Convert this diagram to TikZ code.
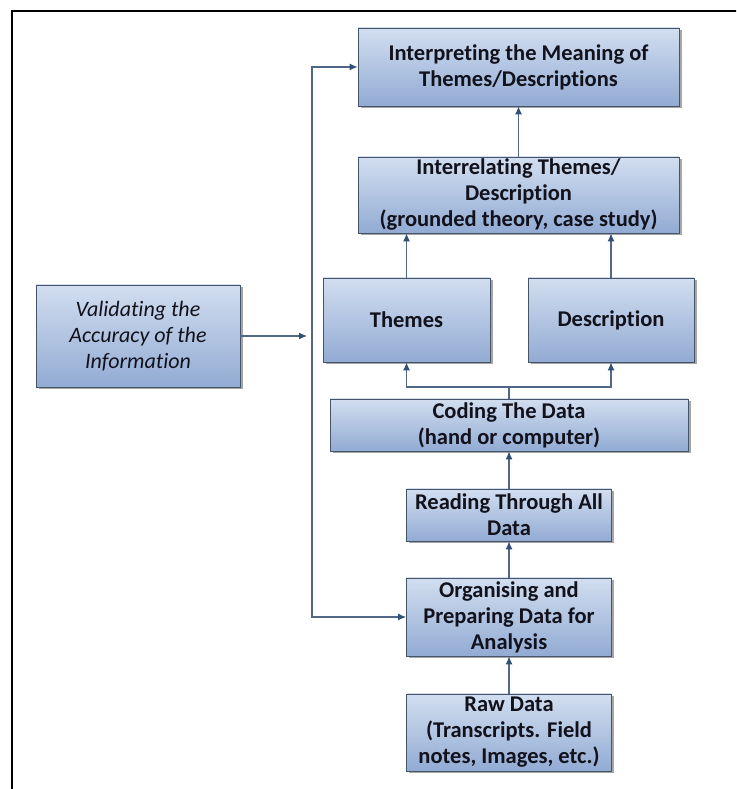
\documentclass[tikz,border=0pt]{standalone}
\usepackage{fontspec}
\setmainfont[Ligatures=NoCommon]{Carlito}
\usetikzlibrary{arrows.meta,shadows}

\definecolor{boxtop}{RGB}{210,222,240}
\definecolor{boxbot}{RGB}{146,171,211}
\definecolor{boxedge}{RGB}{70,84,104}
\definecolor{linkcol}{RGB}{80,104,134}
\definecolor{tipcol}{RGB}{50,80,118}
\definecolor{textcol}{RGB}{18,18,28}

\tikzset{
  stage/.style={draw=boxedge, line width=0.9pt, top color=boxtop, bottom color=boxbot,
    align=center, inner sep=0pt, text=textcol,
    font=\fontsize{22.5}{26}\selectfont\bfseries,
    drop shadow={shadow xshift=2.5pt, shadow yshift=-2.5pt, fill=black, opacity=0.35}},
  link/.style={draw=linkcol, line width=1.1pt},
  arr/.style={link, -{Latex[length=8pt,width=7pt,color=tipcol]}},
}

\begin{document}
\begin{tikzpicture}[x=1pt,y=1pt]
  \useasboundingbox (0,0) rectangle (736,789);
  \fill[white] (0,0) rectangle (736,789);
  \clip (0,0) rectangle (736,789);

  % outer frame (runs off the right and bottom edges)
  \draw[line width=2pt] (11.5,-20) -- (11.5,778) -- (760,778);

  % process stages
  \node[stage, minimum width=321pt, minimum height=78pt] (interp) at (518.5,722)
    {Interpreting the Meaning of\\Themes/Descriptions};
  \node[stage, minimum width=321pt, minimum height=76pt] (interrel) at (518.5,594)
    {Interrelating Themes/\\Description\\(grounded theory, case study)};
  \node[stage, minimum width=167pt, minimum height=84pt] (themes) at (406.5,469) {Themes};
  \node[stage, minimum width=166pt, minimum height=84pt] (descr) at (611,469) {Description};
  \node[stage, minimum width=358pt, minimum height=52pt] (coding) at (509,364)
    {Coding The Data\\(hand or computer)};
  \node[stage, minimum width=205pt, minimum height=52pt] (reading) at (509,274)
    {Reading Through All\\Data};
  \node[stage, minimum width=205pt, minimum height=78pt] (org) at (509,172)
    {Organising and\\Preparing Data for\\Analysis};
  \node[stage, minimum width=205pt, minimum height=77pt] (raw) at (509,56.5)
    {Raw Data\\(Transcripts. Field\\notes, Images, etc.)};
  \node[stage, minimum width=204pt, minimum height=102pt,
        font=\fontsize{22}{26}\selectfont\itshape] (valid) at (138,453)
    {Validating the\\Accuracy of the\\Information};

  % helper points
  \coordinate (spine) at (312,453);
  \coordinate (vtip) at (307,453);
  \coordinate (split) at (509,402);

  % connectors
  \draw[arr] (raw.north) -- (org.south);
  \draw[arr] (org.north) -- (reading.south);
  \draw[arr] (reading.north) -- (coding.south);
  \draw[link] (coding.north) -- (split);
  \draw[arr] (split) -| (themes.south);
  \draw[arr] (split) -| (descr.south);
  \draw[arr] (themes.north) -- (themes.north |- interrel.south);
  \draw[arr] (descr.north) -- (descr.north |- interrel.south);
  \draw[arr] (interrel.north) -- (interp.south);
  \draw[arr] (valid.east) -- (vtip);
  \draw[arr] (spine) |- (interp.west);
  \draw[arr] (spine) |- (org.west);
\end{tikzpicture}
\end{document}
